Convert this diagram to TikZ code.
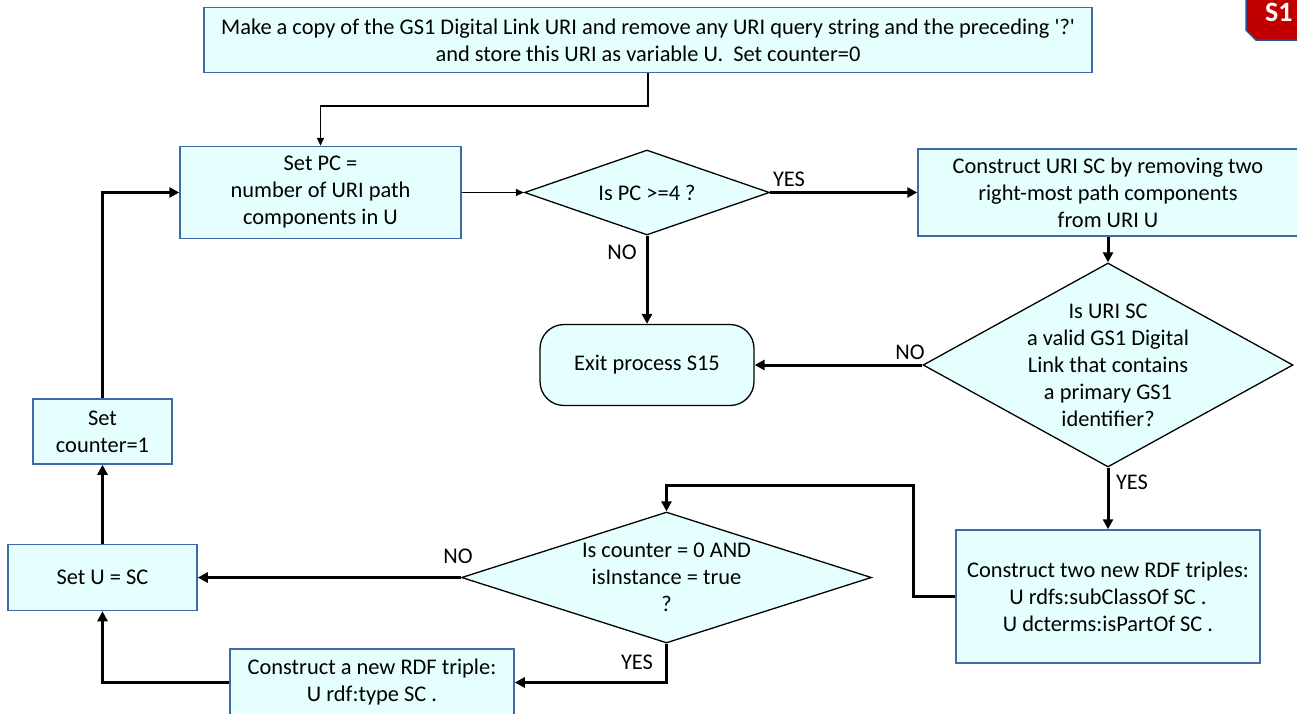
\documentclass[tikz,border=0pt]{standalone}
\usepackage{fontspec}
\setmainfont{Carlito}
\usetikzlibrary{shapes.geometric,arrows.meta}
\definecolor{boxfill}{RGB}{229,255,255}
\definecolor{boxline}{RGB}{65,105,170}
\definecolor{tagred}{RGB}{192,0,0}
\definecolor{tagline}{RGB}{47,82,143}
\begin{document}
\begin{tikzpicture}[x=1pt,y=-1pt,
  txt/.style={font=\fontsize{22.4}{27}\selectfont},
  procbox/.style={txt, draw=boxline, line width=1.5pt, fill=boxfill, align=center, inner sep=0pt},
  decision/.style={txt, diamond, draw=black, line width=1.3pt, fill=boxfill, align=center},
  terminal/.style={txt, draw=black, line width=1.3pt, fill=boxfill, rounded corners=24pt, align=center, inner sep=0pt},
  thinarrow/.style={line width=1.5pt, -{Triangle[length=8pt,width=7pt]}},
  thickarrow/.style={line width=3pt, -{Triangle[length=10pt,width=10pt]}},
  lbl/.style={txt, anchor=base, inner sep=0pt}]
\useasboundingbox (0,0) rectangle (1297,713);

% nodes
\node[procbox, minimum width=888pt, minimum height=65pt] (top) at (648,40)
  {Make a copy of the GS1 Digital Link URI and remove any URI query string and the preceding \textquotesingle?\textquotesingle\\and store this URI as variable U.\ \ Set counter=0};
\node[procbox, minimum width=281pt, minimum height=92pt] (setpc) at (320.5,192.5)
  {Set PC =\\number of URI path\\components in U};
\node[decision, minimum width=245pt, minimum height=85pt, inner sep=0pt, shape aspect=2.9] (d1) at (647,192.5)
  {Is PC >=4 ?};
\node[procbox, minimum width=380pt, minimum height=87pt] (uri) at (1108,192.5)
  {Construct URI SC by removing two\\right-most path components\\from URI U};
\node[decision, minimum width=370pt, minimum height=204pt, inner sep=-40pt, shape aspect=1.8] (d2) at (1108,365)
  {Is URI SC\\a valid GS1 Digital\\Link that contains\\a primary GS1\\identifier?};
\node[terminal, minimum width=214pt, minimum height=81pt] (exit) at (647,365)
  {Exit process S15};
\node[procbox, minimum width=304pt, minimum height=133pt] (two) at (1108,596.5)
  {Construct two new RDF triples:\\U rdfs:subClassOf SC .\\U dcterms:isPartOf SC .};
\node[decision, minimum width=410pt, minimum height=131pt, inner sep=-20pt, shape aspect=3.1] (d3) at (666.5,577.5)
  {Is counter = 0 AND\\isInstance = true\\?};
\node[procbox, minimum width=189pt, minimum height=66pt] (setu) at (102.5,577.5)
  {Set U = SC};
\node[procbox, minimum width=139pt, minimum height=65pt] (cnt) at (102.5,431.5)
  {Set\\counter=1};
\node[procbox, minimum width=284pt, minimum height=67pt] (one) at (372,682.5)
  {Construct a new RDF triple:\\U rdf:type SC .};

% tag
\fill[tagred] (1246,-2) -- (1246,30) -- (1256,40) -- (1300,40) -- (1300,-2) -- cycle;
\draw[tagline, line width=1.5pt] (1246,-2) -- (1246,30) -- (1256,40) -- (1300,40);
\node[font=\bfseries\fontsize{28}{28}\selectfont, text=white, anchor=base west, inner sep=0pt] (tag) at (1265,21) {S1};

% connectors
\coordinate (c1) at (648,106);
\draw[thinarrow] (top.south) -- (c1) -| (setpc.north);
\draw[thinarrow] (setpc.east) -- (d1.west);
\draw[thickarrow] (d1.east) -- (uri.west);
\draw[thickarrow] (d1.south) -- (exit.north);
\draw[thickarrow] (uri.south) -- (d2.north);
\draw[thickarrow] (d2.west) -- (exit.east);
\draw[thickarrow] (d2.south) -- (two.north);
\coordinate (c8) at (913,485);
\draw[thickarrow] (two.west) -| (c8) -| (d3.north);
\draw[thickarrow] (d3.west) -- (setu.east);
\draw[thickarrow] (d3.south) |- (one.east);
\draw[thickarrow] (one.west) -| (setu.south);
\draw[thickarrow] (setu.north) -- (cnt.south);
\draw[thickarrow] (cnt.north) |- (setpc.west);

% labels
\node[lbl] (yes1) at (789,186) {YES};
\node[lbl] (no1) at (622,259) {NO};
\node[lbl] (no2) at (910,359) {NO};
\node[lbl] (yes2) at (1132,489) {YES};
\node[lbl] (no3) at (458,563) {NO};
\node[lbl] (yes3) at (637,669) {YES};
\end{tikzpicture}
\end{document}
